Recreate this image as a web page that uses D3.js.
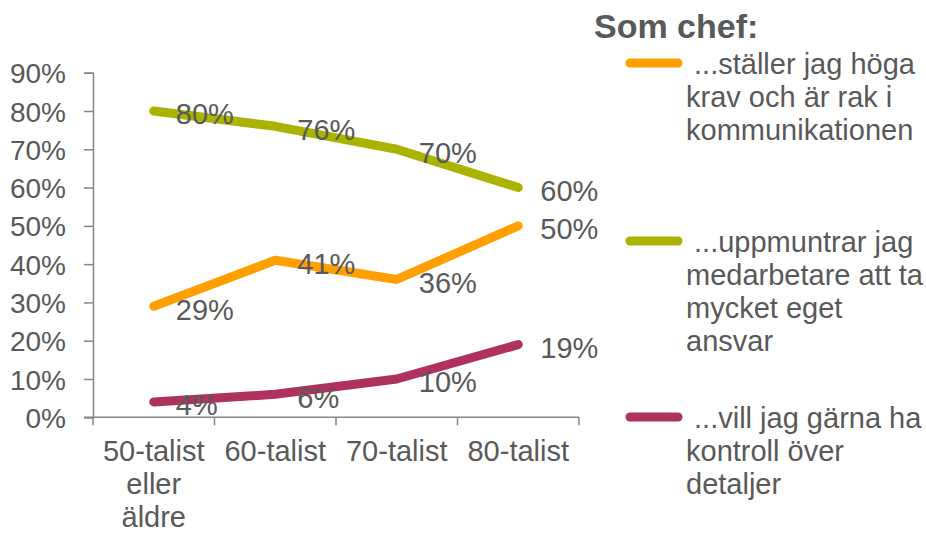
<!DOCTYPE html>
<html>
<head>
<meta charset="utf-8">
<script src="https://cdn.jsdelivr.net/npm/d3@7"></script>
<style>
  body { margin: 0; background: #fff; }
  text { font-family: "Liberation Sans", Arial, sans-serif; fill: #595959; }
</style>
</head>
<body>
<div id="chart"></div>
<script>
// Data
const categories = ["50-talist eller äldre", "60-talist", "70-talist", "80-talist"];
const categoryLines = [["50-talist", "eller", "äldre"], ["60-talist"], ["70-talist"], ["80-talist"]];
const krav = [29, 41, 36, 50];
const ansvar = [80, 76, 70, 60];
const kontroll = [4, 6, 10, 19];
const yTicks = [0, 10, 20, 30, 40, 50, 60, 70, 80, 90];

const series = [
  { name: "krav", values: krav, color: "#FFA000",
    legend: [" ...ställer jag höga", "krav och är rak i", "kommunikationen"] },
  { name: "ansvar", values: ansvar, color: "#AAB300",
    legend: [" ...uppmuntrar jag", "medarbetare att ta", "mycket eget", "ansvar"] },
  { name: "kontroll", values: kontroll, color: "#AF3160",
    legend: [" ...vill jag gärna ha", "kontroll över", "detaljer"] }
];

const width = 926;
const height = 533;
const marginLeft = 93;
const plotRight = 579;
const plotTop = 72.7;
const plotBottom = 417.3;
const fs = 29;

const svg = d3.select("#chart")
  .append("svg")
  .attr("width", width)
  .attr("height", height);

const x = d3.scaleBand()
  .domain(categories)
  .range([marginLeft, plotRight]);

const y = d3.scaleLinear()
  .domain([0, 90])
  .range([plotBottom, plotTop]);

// y axis
const yAxis = svg.append("g")
  .attr("transform", "translate(" + marginLeft + ",0)")
  .call(d3.axisLeft(y).tickValues(yTicks).tickFormat(d => d + "%").tickSize(9).tickPadding(18));
yAxis.select(".domain").attr("stroke", "#868686").attr("stroke-width", 1.5);
yAxis.selectAll(".tick line").attr("stroke", "#868686").attr("stroke-width", 1.5);
yAxis.selectAll(".tick text")
  .attr("font-size", 28)
  .attr("font-family", "Liberation Sans, Arial, sans-serif")
  .attr("fill", "#595959")
  .attr("dy", "0.36em");

// x axis
const xAxis = svg.append("g")
  .attr("transform", "translate(0," + plotBottom + ")");
xAxis.append("line")
  .attr("x1", marginLeft - 9).attr("x2", plotRight)
  .attr("stroke", "#868686").attr("stroke-width", 1.5);
const xTickPos = categories.map(c => x(c)).concat([plotRight]);
xAxis.selectAll(".xtick")
  .data(xTickPos)
  .enter().append("line")
  .attr("x1", d => d).attr("x2", d => d)
  .attr("y1", 0).attr("y2", 8)
  .attr("stroke", "#868686").attr("stroke-width", 1.5);

categories.forEach((c, i) => {
  const t = svg.append("text")
    .attr("x", x(c) + x.bandwidth() / 2)
    .attr("y", 461)
    .attr("text-anchor", "middle")
    .attr("font-size", fs);
  categoryLines[i].forEach((line, j) => {
    t.append("tspan")
      .attr("x", x(c) + x.bandwidth() / 2)
      .attr("dy", j === 0 ? 0 : 33)
      .text(line);
  });
});

// lines
const line = d3.line()
  .x((d, i) => x(categories[i]) + x.bandwidth() / 2)
  .y(d => y(d));

series.forEach(s => {
  svg.append("path")
    .datum(s.values)
    .attr("d", line)
    .attr("fill", "none")
    .attr("stroke", s.color)
    .attr("stroke-width", 9)
    .attr("stroke-linecap", "round")
    .attr("stroke-linejoin", "round");
});

// data labels
series.forEach(s => {
  svg.selectAll(".lbl-" + s.name)
    .data(s.values)
    .enter().append("text")
    .attr("x", (d, i) => x(categories[i]) + x.bandwidth() / 2 + 22)
    .attr("y", d => y(d) + 3)
    .attr("dy", "0.36em")
    .attr("font-size", fs)
    .text(d => d + "%");
});

// legend
svg.append("text")
  .attr("x", 594)
  .attr("y", 38)
  .attr("font-size", 34)
  .attr("font-weight", "bold")
  .text("Som chef:");

const legendY = [63, 241, 417];
series.forEach((s, i) => {
  svg.append("line")
    .attr("x1", 630).attr("x2", 678)
    .attr("y1", legendY[i]).attr("y2", legendY[i])
    .attr("stroke", s.color)
    .attr("stroke-width", 9)
    .attr("stroke-linecap", "round");
  const t = svg.append("text")
    .attr("x", 686)
    .attr("y", legendY[i] + 11)
    .attr("font-size", fs);
  s.legend.forEach((l, j) => {
    t.append("tspan")
      .attr("x", 686)
      .attr("dy", j === 0 ? 0 : 33)
      .attr("xml:space", "preserve")
      .style("white-space", "pre")
      .text(l);
  });
});
</script>
</body>
</html>
